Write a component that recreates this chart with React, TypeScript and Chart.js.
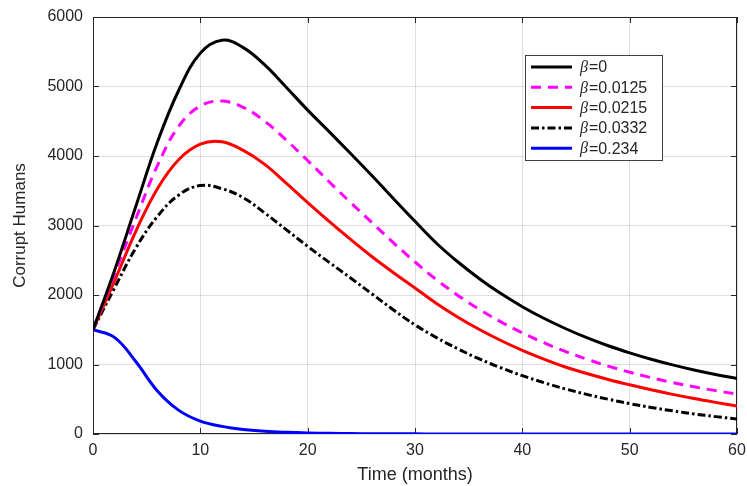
import React, { useEffect, useRef } from "react";
import { Chart, registerables } from "chart.js";

Chart.register(...registerables);

// Time (months)
const TIME = [0, 2, 4, 6, 8, 10, 12, 14, 16, 18, 20, 22, 24, 26, 28, 30, 32, 34, 36, 38, 40, 42, 44, 46, 48, 50, 52, 54, 56, 58, 60];

// Corrupt humans for each beta
const BETA_0 = [1500, 2350, 3280, 4200, 4950, 5480, 5665, 5560, 5310, 4990, 4660, 4350, 4035, 3715, 3385, 3060, 2745, 2475, 2235, 2020, 1832, 1665, 1518, 1386, 1270, 1168, 1076, 994, 920, 856, 800];
const BETA_00125 = [1500, 2300, 3100, 3860, 4430, 4720, 4790, 4700, 4500, 4230, 3935, 3630, 3330, 3040, 2750, 2475, 2220, 1994, 1793, 1614, 1455, 1314, 1188, 1076, 977, 889, 810, 741, 679, 624, 575];
const BETA_00215 = [1500, 2200, 2920, 3530, 3950, 4170, 4205, 4080, 3880, 3610, 3330, 3060, 2800, 2550, 2320, 2100, 1878, 1680, 1503, 1345, 1203, 1077, 964, 870, 785, 708, 636, 570, 510, 455, 403];
const BETA_00332 = [1500, 2100, 2680, 3130, 3440, 3575, 3530, 3400, 3180, 2940, 2700, 2470, 2245, 2015, 1785, 1570, 1387, 1225, 1080, 953, 839, 739, 649, 570, 500, 437, 382, 333, 289, 250, 216];
const BETA_0234 = [1500, 1390, 1040, 620, 340, 185, 110, 65, 40, 25, 15, 9, 6, 4, 3, 2, 1, 1, 0, 0, 0, 0, 0, 0, 0, 0, 0, 0, 0, 0, 0];

const LABELS = ["β=0", "β=0.0125", "β=0.0215", "β=0.0332", "β=0.234"];

const X_MIN = 0;
const X_MAX = 60;
const X_STEP = 10;
const Y_MIN = 0;
const Y_MAX = 6000;
const Y_STEP = 1000;

const X_TITLE = "Time (months)";
const Y_TITLE = "Corrupt Humans";

const AXIS_COLOR = "#262626";
const FONT = "'Liberation Sans', Arial, sans-serif";

const toPoints = (ys: number[]) => TIME.map((t, i) => ({ x: t, y: ys[i] }));

const framePlugin = {
  id: "frame",
  beforeDatasetsDraw(chart: any) {
    const { ctx, chartArea } = chart;
    const { left, right, top, bottom } = chartArea;
    const xs = chart.scales.x;
    const ys = chart.scales.y;
    ctx.save();
    ctx.strokeStyle = AXIS_COLOR;
    ctx.lineWidth = 1;
    ctx.strokeRect(left + 0.5, top + 0.5, right - left - 1, bottom - top - 1);
    const tl = 6;
    ctx.beginPath();
    for (let v = X_MIN; v <= X_MAX; v += X_STEP) {
      const px = Math.round(xs.getPixelForValue(v)) + 0.5;
      ctx.moveTo(px, bottom);
      ctx.lineTo(px, bottom - tl);
      ctx.moveTo(px, top);
      ctx.lineTo(px, top + tl);
    }
    for (let v = Y_MIN; v <= Y_MAX; v += Y_STEP) {
      const py = Math.round(ys.getPixelForValue(v)) + 0.5;
      ctx.moveTo(left, py);
      ctx.lineTo(left + tl, py);
      ctx.moveTo(right, py);
      ctx.lineTo(right - tl, py);
    }
    ctx.stroke();
    ctx.restore();
  },
};

const legendPlugin = {
  id: "matlabLegend",
  afterDatasetsDraw(chart: any) {
    const { ctx, chartArea } = chart;
    const boxL = chartArea.left + 432;
    const boxT = chartArea.top + 38;
    const boxW = 137;
    const boxH = 105;
    ctx.save();
    ctx.fillStyle = "#ffffff";
    ctx.fillRect(boxL, boxT, boxW, boxH);
    ctx.strokeStyle = "#404040";
    ctx.lineWidth = 1;
    ctx.strokeRect(boxL + 0.5, boxT + 0.5, boxW, boxH);
    chart.data.datasets.forEach((ds: any, i: number) => {
      const y = boxT + 12 + i * 20.3;
      ctx.beginPath();
      ctx.strokeStyle = ds.borderColor;
      ctx.lineWidth = ds.borderWidth;
      ctx.setLineDash(ds.borderDash || []);
      ctx.moveTo(boxL + 6, y);
      ctx.lineTo(boxL + 47, y);
      ctx.stroke();
      ctx.setLineDash([]);
      const label: string = ds.label;
      const sym = label.charAt(0);
      const rest = label.slice(1);
      ctx.fillStyle = "#262626";
      ctx.textBaseline = "middle";
      ctx.textAlign = "left";
      ctx.font = "italic 16px 'Liberation Serif', 'DejaVu Serif', serif";
      const tx = boxL + 55;
      ctx.fillText(sym, tx, y + 1);
      const sw = ctx.measureText(sym).width;
      ctx.font = "16px " + FONT;
      ctx.fillText(rest, tx + sw + 1, y + 1);
    });
    ctx.restore();
  },
};

export default function App() {
  const canvasRef = useRef<HTMLCanvasElement | null>(null);

  useEffect(() => {
    if (!canvasRef.current) return;
    const series = [BETA_0, BETA_00125, BETA_00215, BETA_00332, BETA_0234];
    const colors = ["#000000", "#ff00ff", "#ff0000", "#000000", "#0000ff"];
    const dashes = [[], [10, 7], [], [8, 3, 2.5, 3], []];
    const chart = new Chart(canvasRef.current, {
      type: "line",
      data: {
        datasets: series.map((s, i) => ({
          label: LABELS[i],
          data: toPoints(s),
          borderColor: colors[i],
          backgroundColor: colors[i],
          borderWidth: 3,
          borderDash: dashes[i],
          pointRadius: 0,
          fill: false,
          tension: 0.4,
        })),
      },
      options: {
        animation: false,
        responsive: false,
        devicePixelRatio: 1,
        layout: { padding: { left: 0, right: 10, top: 17, bottom: 0 } },
        plugins: {
          legend: { display: false },
          tooltip: { enabled: false },
        },
        scales: {
          x: {
            type: "linear",
            min: X_MIN,
            max: X_MAX,
            afterFit: (scale: any) => {
              scale.height = 52;
              scale.paddingLeft = 0;
              scale.paddingRight = 0;
            },
            ticks: {
              stepSize: X_STEP,
              padding: 7,
              color: AXIS_COLOR,
              font: { family: FONT, size: 16 },
              maxRotation: 0,
              callback: (v: any) => String(v),
            },
            grid: { color: "rgba(38,38,38,0.15)", drawTicks: false, lineWidth: 1 },
            border: { display: false },
            title: {
              display: true,
              text: X_TITLE,
              color: AXIS_COLOR,
              font: { family: FONT, size: 18 },
              padding: { top: 0, bottom: 0 },
            },
          },
          y: {
            type: "linear",
            min: Y_MIN,
            max: Y_MAX,
            afterFit: (scale: any) => {
              scale.width = 93;
              scale.paddingTop = 0;
              scale.paddingBottom = 0;
            },
            ticks: {
              stepSize: Y_STEP,
              padding: 10,
              color: AXIS_COLOR,
              font: { family: FONT, size: 16 },
              callback: (v: any) => String(v),
            },
            grid: { color: "rgba(38,38,38,0.15)", drawTicks: false, lineWidth: 1 },
            border: { display: false },
            title: {
              display: true,
              text: Y_TITLE,
              color: AXIS_COLOR,
              font: { family: FONT, size: 17 },
              padding: { top: 10, bottom: 0 },
            },
          },
        },
      },
      plugins: [framePlugin, legendPlugin],
    });
    return () => chart.destroy();
  }, []);

  return (
    <div style={{ position: "fixed", left: 0, top: 0, width: 747, height: 486, background: "#fff" }}>
      <canvas ref={canvasRef} width={747} height={486} style={{ width: 747, height: 486, display: "block" }} />
    </div>
  );
}
